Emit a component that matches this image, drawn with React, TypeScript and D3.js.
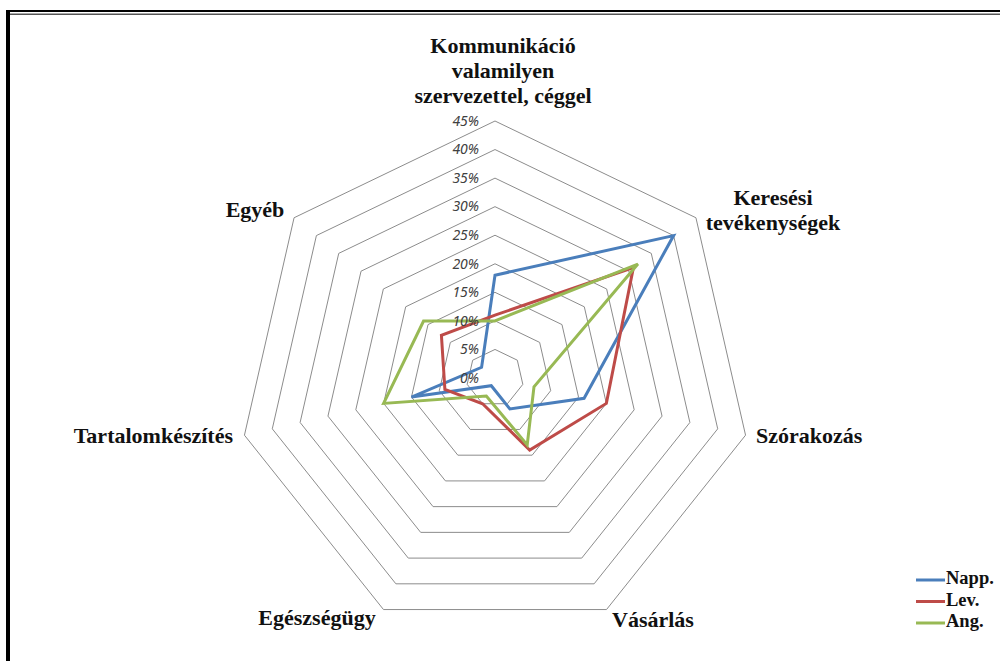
import React from "react";
import * as d3 from "d3";

const categories = [
  "Kommunikáció valamilyen szervezettel, céggel",
  "Keresési tevékenységek",
  "Szórakozás",
  "Vásárlás",
  "Egészségügy",
  "Tartalomkészítés",
  "Egyéb",
];
const seriesNames = ["Napp.", "Lev.", "Ang."];
const napp = [18, 40, 16, 6, 1.5, 15, 3];
const lev = [11, 31, 20, 14, 5, 9, 12];
const ang = [10, 32, 7, 13, 3.5, 20, 16];
const tickValues = [0, 5, 10, 15, 20, 25, 30, 35, 40, 45];

const COLORS = ["#4a7ebb", "#be4b48", "#98b954"];
const CX = 495;
const CY = 378;
const R = 257;
const SERIF = "'Liberation Serif', 'DejaVu Serif', serif";

// label placement per axis: lines, anchor, x, first baseline
const LABELS = [
  { lines: ["Kommunikáció", "valamilyen", "szervezettel, céggel"], anchor: "middle", x: 503, y: 53 },
  { lines: ["Keresési", "tevékenységek"], anchor: "middle", x: 773, y: 205 },
  { lines: ["Szórakozás"], anchor: "start", x: 756, y: 443 },
  { lines: ["Vásárlás"], anchor: "middle", x: 653, y: 627 },
  { lines: ["Egészségügy"], anchor: "middle", x: 317, y: 625 },
  { lines: ["Tartalomkészítés"], anchor: "end", x: 233, y: 443 },
  { lines: ["Egyéb"], anchor: "middle", x: 255, y: 217 },
];

const App = () => {
  const width = 1000;
  const height = 661;
  const n = categories.length;
  const rScale = d3.scaleLinear().domain([0, 45]).range([0, R]);
  const angle = (i: number) => (i * 2 * Math.PI) / n;

  const radial = d3
    .lineRadial<number>()
    .angle((_, i) => angle(i))
    .radius((d) => rScale(d))
    .curve(d3.curveLinearClosed);

  const allSeries = [napp, lev, ang];

  return (
    <svg
      width={width}
      height={height}
      style={{ position: "absolute", left: 0, top: 0, background: "#fff" }}
    >
      {/* frame */}
      <rect x={6} y={10} width={4} height={651} fill="#000" />
      <rect x={6} y={10} width={994} height={2} fill="#000" />
      <rect x={10} y={13.5} width={990} height={1.5} fill="#555" />

      <g transform={`translate(${CX},${CY})`}>
        {tickValues.slice(1).map((t) => (
          <path
            key={t}
            d={radial(categories.map(() => t)) || ""}
            fill="none"
            stroke="#8c8c8c"
            strokeWidth={1}
          />
        ))}
        {allSeries.map((s, k) => (
          <path
            key={k}
            d={radial(s) || ""}
            fill="none"
            stroke={COLORS[k]}
            strokeWidth={3}
            strokeLinejoin="miter"
          />
        ))}
        {tickValues.map((t) => (
          <text
            key={t}
            x={-16}
            y={-rScale(t) + 1}
            textAnchor="end"
            dominantBaseline="middle"
            fontFamily="'Noto Sans', 'Liberation Sans', sans-serif"
            fontStyle="italic"
            fontSize={14}
            fill="#404040"
          >
            {t}%
          </text>
        ))}
      </g>

      {LABELS.map((l, i) => (
        <text
          key={i}
          x={l.x}
          y={l.y}
          textAnchor={l.anchor as any}
          fontFamily={SERIF}
          fontWeight="bold"
          fontSize={22}
          fill="#111"
        >
          {l.lines.map((ln, j) => (
            <tspan key={j} x={l.x} dy={j === 0 ? 0 : 25}>
              {ln}
            </tspan>
          ))}
        </text>
      ))}

      {/* legend */}
      {seriesNames.map((name, k) => {
        const y = 580 + k * 21.5;
        return (
          <g key={name}>
            <line x1={916} x2={945} y1={y} y2={y} stroke={COLORS[k]} strokeWidth={3} />
            <text
              x={946}
              y={y}
              dominantBaseline="middle"
              fontFamily={SERIF}
              fontWeight="bold"
              fontSize={18.5}
              fill="#111"
            >
              {name}
            </text>
          </g>
        );
      })}
    </svg>
  );
};

export default App;
